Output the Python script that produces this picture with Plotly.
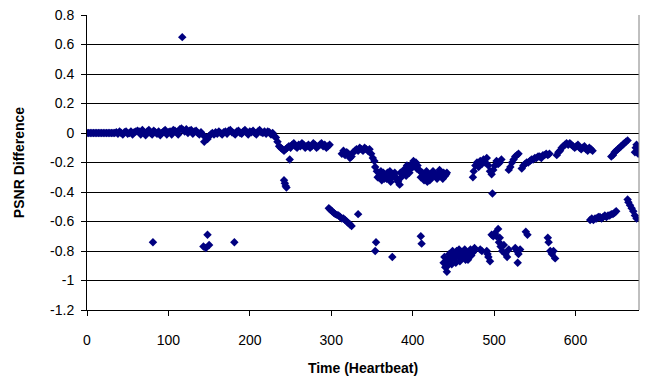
import plotly.graph_objects as go

# ---------------- data ----------------
# flat start
flat_x = list(range(0, 36, 2))
flat_y = [0.0] * len(flat_x)

# noisy band around zero
noise_x = list(range(36, 232, 2))
noise_y = [0.005, -0.005, 0.01, 0, -0.01, 0.005, 0.01, -0.005, 0, 0.01, -0.01, 0.005, 0.01,
           0.015, 0.01, -0.01, 0.02, 0.005, -0.015, 0.01, 0.02, 0.0, -0.01, 0.015, 0.005, -0.005, 0.01, -0.015, 0.0, 0.01, 0.02, -0.01, 0.005,
           0.01, -0.01, 0.02, 0.015, 0.005, -0.01, 0.025, 0.03, 0.02, 0.01, 0.025, 0.0, 0.015, 0.02, -0.005, 0.01, 0.015, 0.0, -0.01, 0.005,
           -0.01, -0.06, -0.03, -0.04, -0.02, -0.01, 0.0, -0.01, 0.005, -0.005,
           0.01, 0.0, -0.01, 0.005, 0.01, -0.005, 0.015, 0.02, 0.005, 0.0, -0.01, 0.01, 0.015, 0.0, -0.005, 0.01, 0.02, 0.005,
           -0.01, 0.01, 0.005, 0.015, 0.0, -0.01, 0.01, 0.02, 0.005, 0.0, 0.01, -0.005, 0.01, 0.005, -0.01, 0.0, -0.02]

# first drop band
band1_x = list(range(232, 300, 2))
band1_y = [-0.03, -0.06, -0.09, -0.1, -0.11, -0.12, -0.11, -0.1, -0.09, -0.1, -0.08, -0.07, -0.09, -0.1, -0.08, -0.09, -0.07,
           -0.08, -0.1, -0.09, -0.08, -0.1, -0.09, -0.07, -0.08, -0.1, -0.09, -0.08, -0.07, -0.09, -0.08, -0.1, -0.09, -0.08]

# lower descending run
low1_x = list(range(297, 327, 2))
low1_y = [-0.51, -0.52, -0.53, -0.54, -0.55, -0.555, -0.56, -0.57, -0.58, -0.58, -0.59, -0.6, -0.61, -0.62, -0.63]

# second upper run
band2_x = list(range(313, 355, 2))
band2_y = [-0.14, -0.12, -0.15, -0.13, -0.14, -0.17, -0.16, -0.13, -0.12, -0.11, -0.12, -0.1, -0.11, -0.12, -0.1, -0.11,
           -0.12, -0.11, -0.14, -0.17, -0.19]

# -0.3 band
band3_x = list(range(356, 444, 2))
band3_y = [-0.26, -0.3, -0.28, -0.32, -0.27, -0.29, -0.31, -0.28,
           -0.26, -0.3, -0.29, -0.27, -0.31, -0.33, -0.35, -0.3,
           -0.28, -0.26, -0.29, -0.25, -0.27, -0.24, -0.23, -0.21,
           -0.2, -0.22, -0.25, -0.3, -0.27, -0.32, -0.29, -0.33,
           -0.31, -0.28, -0.3, -0.27, -0.29, -0.31, -0.28, -0.26,
           -0.3, -0.27, -0.29, -0.27]
band3b_x = list(range(357, 443, 4))
band3b_y = [-0.3, -0.26, -0.31, -0.27, -0.33, -0.28, -0.31, -0.27, -0.25, -0.22,
            -0.22, -0.19, -0.24, -0.26, -0.3, -0.26, -0.32, -0.26, -0.29, -0.25, -0.31, -0.28]

# upper right runs
band4_x = [474, 475, 477, 479, 481, 483, 485, 487, 489, 491, 493, 495, 497, 498, 499, 501, 503, 505, 507, 509]
band4_y = [-0.3, -0.26, -0.22, -0.2, -0.23, -0.19, -0.21, -0.18, -0.2, -0.17, -0.22, -0.26, -0.28, -0.41, -0.25, -0.22,
           -0.19, -0.21, -0.2, -0.18]
band5_x = [518, 520, 522, 524, 526, 528, 530]
band5_y = [-0.25, -0.23, -0.2, -0.18, -0.16, -0.15, -0.14]
band6_x = list(range(534, 570, 2))
band6_y = [-0.24, -0.22, -0.21, -0.2, -0.2, -0.19, -0.18, -0.18, -0.17, -0.17, -0.16, -0.16, -0.17, -0.15, -0.15, -0.14,
           -0.15, -0.14]
band7_x = list(range(577, 623, 2))
band7_y = [-0.15, -0.13, -0.12, -0.1, -0.09, -0.08, -0.07, -0.08, -0.07, -0.08, -0.09, -0.1, -0.09, -0.08, -0.1, -0.11,
           -0.1, -0.09, -0.11, -0.12, -0.1, -0.11, -0.12]
band8_x = list(range(644, 666, 2))
band8_y = [-0.16, -0.15, -0.13, -0.12, -0.11, -0.1, -0.09, -0.08, -0.07, -0.06, -0.05]
band9_x = [673, 674, 675, 676, 677]
band9_y = [-0.13, -0.1, -0.08, -0.12, -0.14]

# lower right runs
low2_x = list(range(618, 652, 2))
low2_y = [-0.59, -0.58, -0.59, -0.58, -0.58, -0.57, -0.57, -0.58, -0.57, -0.56, -0.57, -0.56, -0.56, -0.55, -0.55,
          -0.54, -0.53]
low3_x = [664, 665, 667, 669, 671, 673, 675]
low3_y = [-0.45, -0.47, -0.49, -0.51, -0.53, -0.56, -0.58]

# lower cluster
clus_x = list(range(438, 478, 2))
clus_y = [-0.88, -0.91, -0.94, -0.86, -0.84, -0.89, -0.82, -0.85, -0.8, -0.83, -0.87, -0.81, -0.84, -0.79, -0.82,
          -0.86, -0.8, -0.83, -0.81, -0.78]
clusb_x = list(range(439, 477, 2))
clusb_y = [-0.84, -0.87, -0.9, -0.82, -0.86, -0.8, -0.84, -0.88, -0.82, -0.79, -0.85, -0.83, -0.8, -0.86, -0.82,
           -0.84, -0.79, -0.81, -0.8]

# scattered points
sparse_x = [81, 117, 143, 146, 148, 150, 181, 242, 243, 244, 245, 249, 333, 354,
            355, 354, 375, 410, 411,
            483, 485, 491, 492, 493, 495,
            497, 499, 501, 503, 505, 507,
            506, 508, 510, 512, 514, 516, 518,
            526, 528, 529, 530, 532, 539, 541,
            566, 567, 569, 571, 573, 575]
sparse_y = [-0.74, 0.65, -0.77, -0.78, -0.69, -0.76, -0.74, -0.32, -0.34, -0.36, -0.37, -0.18, -0.55, -0.23,
            -0.74, -0.8, -0.84, -0.7, -0.75,
            -0.79, -0.8, -0.8, -0.82, -0.84, -0.87,
            -0.69, -0.7, -0.68, -0.7, -0.65, -0.71,
            -0.74, -0.77, -0.8, -0.76, -0.82, -0.84, -0.79,
            -0.78, -0.8, -0.88, -0.82, -0.79, -0.67, -0.69,
            -0.71, -0.74, -0.8, -0.82, -0.8, -0.85]

x_ticks = [0, 100, 200, 300, 400, 500, 600]
y_ticks = [0.8, 0.6, 0.4, 0.2, 0, -0.2, -0.4, -0.6, -0.8, -1, -1.2]
y_tick_text = ["0.8", "0.6", "0.4", "0.2", "0", "-0.2", "-0.4", "-0.6", "-0.8", "-1", "-1.2"]

xs = (flat_x + noise_x + band1_x + low1_x + band2_x + band3_x + band3b_x + band4_x + band5_x + band6_x
      + band7_x + band8_x + band9_x + low2_x + low3_x + clus_x + clusb_x + sparse_x)
ys = (flat_y + noise_y + band1_y + low1_y + band2_y + band3_y + band3b_y + band4_y + band5_y + band6_y
      + band7_y + band8_y + band9_y + low2_y + low3_y + clus_y + clusb_y + sparse_y)

FONT = "Liberation Sans, Arial, sans-serif"

fig = go.Figure()
fig.add_trace(go.Scatter(
    x=xs, y=ys, mode="markers",
    marker=dict(symbol="diamond", size=6.5, color="#000080", line=dict(width=0)),
    hoverinfo="skip", showlegend=False, cliponaxis=True,
))

fig.update_layout(
    width=646, height=385,
    margin=dict(l=87, r=7, t=15, b=75),
    paper_bgcolor="white", plot_bgcolor="white",
    font=dict(family=FONT, size=14, color="black"),
    xaxis=dict(
        range=[0, 678], tickvals=x_ticks, ticks="outside", ticklen=5, tickcolor="black",
        showline=True, linecolor="black", linewidth=1, showgrid=False, zeroline=False,
        ticklabelstandoff=12, automargin=False,
        title=dict(text="<b>Time (Heartbeat)</b>", standoff=16, font=dict(size=14)),
    ),
    yaxis=dict(
        range=[-1.2, 0.8], tickvals=y_ticks, ticktext=y_tick_text, ticks="outside", ticklen=5,
        tickcolor="black", showline=True, linecolor="black", linewidth=1,
        showgrid=True, gridcolor="black", gridwidth=1, zeroline=False, automargin=False,
        ticklabelstandoff=4,
        title=dict(text="<b>PSNR Difference</b>", standoff=22, font=dict(size=14)),
    ),
    shapes=[dict(type="line", xref="paper", yref="paper", x0=1, x1=1, y0=0, y1=1,
                 line=dict(color="#808080", width=1))],
)

fig.write_html("out.html", config={"displayModeBar": False},
               post_script="document.body.style.margin='0';")
